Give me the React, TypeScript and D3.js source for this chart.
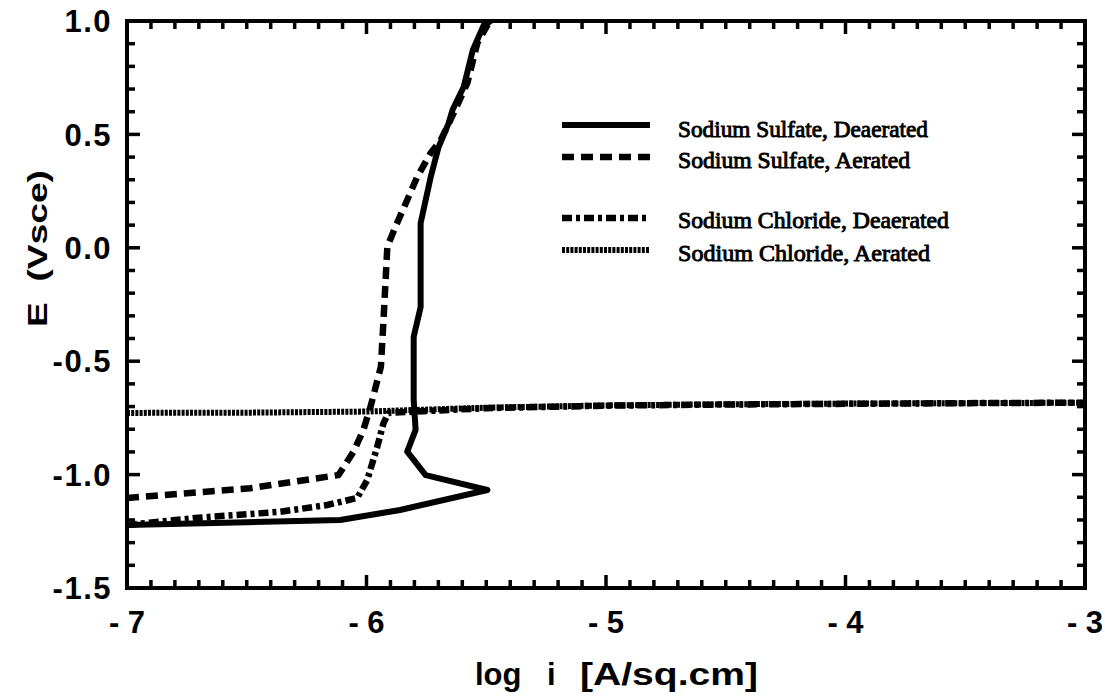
import React, { useEffect } from "react";
import * as d3 from "d3";

type Pt = [number, number];

const xTicks = [-7, -6, -5, -4, -3];
const xTickLabels = ["- 7", "- 6", "- 5", "- 4", "- 3"];
const yTicks = [1.0, 0.5, 0.0, -0.5, -1.0, -1.5];
const yTickLabels = ["1.0", "0.5", "0.0", "-0.5", "-1.0", "-1.5"];

const sulfateDeaerated: Pt[] = [
  [-7, -1.222], [-6.5, -1.21], [-6.11, -1.2], [-5.86, -1.156], [-5.495, -1.068],
  [-5.753, -1.002], [-5.83, -0.899], [-5.795, -0.803], [-5.803, -0.671],
  [-5.803, -0.393], [-5.774, -0.261], [-5.774, 0.109], [-5.732, 0.312],
  [-5.699, 0.444], [-5.657, 0.55], [-5.64, 0.61], [-5.594, 0.71],
  [-5.556, 0.872], [-5.51, 0.982], [-5.48, 1.0],
];
const sulfateAerated: Pt[] = [
  [-7, -1.103], [-6.485, -1.06], [-6.117, -1.002], [-6.054, -0.899],
  [-6.013, -0.803], [-5.983, -0.7], [-5.94, -0.525], [-5.929, -0.318],
  [-5.913, 0.005], [-5.879, 0.093], [-5.83, 0.211], [-5.788, 0.313],
  [-5.732, 0.418], [-5.69, 0.475], [-5.636, 0.594], [-5.579, 0.727],
  [-5.537, 0.903], [-5.495, 0.982], [-5.48, 1.0],
];
const chlorideDeaerated: Pt[] = [
  [-7, -1.222], [-6.7, -1.19], [-6.36, -1.164], [-6.164, -1.134],
  [-6.039, -1.103], [-5.997, -1.024], [-5.955, -0.877], [-5.929, -0.773],
  [-5.908, -0.728], [-5.5, -0.707], [-5, -0.696], [-4.5, -0.691],
  [-4, -0.688], [-3.5, -0.685], [-3, -0.683],
];
const chlorideAerated: Pt[] = [
  [-7, -0.728], [-6.5, -0.727], [-6, -0.722], [-5.5, -0.705], [-5, -0.695],
  [-4.5, -0.69], [-4, -0.687], [-3.5, -0.685], [-3, -0.683],
];

const legendLabels = [
  "Sodium Sulfate, Deaerated",
  "Sodium Sulfate, Aerated",
  "Sodium Chloride, Deaerated",
  "Sodium Chloride, Aerated",
];

const W = 1105, H = 696;
const L = 127, R = 1085, T = 21, B = 588;

const styles = [
  { dash: undefined as string | undefined, width: 6 },
  { dash: "12,7", width: 6.5 },
  { dash: "10,4,4,4", width: 6.5 },
  { dash: "3,1.2", width: 6 },
];

const font = "'Liberation Sans', Arial, Helvetica, sans-serif";
const serif = "'Liberation Serif', 'Times New Roman', serif";

export default function App() {
  useEffect(() => {
    document.body.style.margin = "0";
  }, []);
  const x = d3.scaleLinear().domain([-7, -3]).range([L, R]);
  const y = d3.scaleLinear().domain([-1.5, 1.0]).range([B, T]);
  const line = d3.line<Pt>().x((d) => x(d[0])).y((d) => y(d[1]));
  const series = [sulfateDeaerated, sulfateAerated, chlorideDeaerated, chlorideAerated];
  const xMinor = d3.range(0, 41).map((k) => -7 + k * 0.1);
  const yMinor = d3.range(0, 26).map((k) => -1.5 + k * 0.1);
  const rowsY = [125, 157, 218, 250];
  const baseY = [137, 168, 228, 261];
  const widths = [250, 232, 271, 252];

  return (
    <svg width={W} height={H} style={{ display: "block", background: "#fff", position: "absolute", left: 0, top: 0 }}>
      <defs>
        <clipPath id="clip">
          <rect x={L} y={T} width={R - L} height={B - T} />
        </clipPath>
      </defs>
      <g clipPath="url(#clip)">
        {[3, 2, 1, 0].map((i) => (
          <path key={i} d={line(series[i]) as string} fill="none" stroke="#000"
            strokeWidth={styles[i].width} strokeLinejoin="round"
            strokeDasharray={styles[i].dash} />
        ))}
      </g>
      <rect x={L} y={T} width={R - L} height={B - T} fill="none" stroke="#000" strokeWidth={4} />
      <g stroke="#000" strokeWidth={3.5}>
        {xMinor.map((v, k) => {
          const len = k % 10 === 0 ? 13 : 8;
          const px = x(v);
          return (
            <g key={"x" + k}>
              <line x1={px} x2={px} y1={B} y2={B - len} />
              <line x1={px} x2={px} y1={T} y2={T + len} />
            </g>
          );
        })}
        {yMinor.map((v, k) => {
          const len = k % 5 === 0 ? 13 : 8;
          const py = y(v);
          return (
            <g key={"y" + k}>
              <line x1={L} x2={L + len} y1={py} y2={py} />
              <line x1={R} x2={R - len} y1={py} y2={py} />
            </g>
          );
        })}
      </g>
      {xTicks.map((v, i) => (
        <text key={"xl" + i} x={x(v)} y={633} textAnchor="middle" fontFamily={font}
          fontWeight="bold" fontSize={31}>{xTickLabels[i]}</text>
      ))}
      {yTicks.map((v, i) => (
        <text key={"yl" + i} x={112} y={y(v)} dy="0.36em" textAnchor="end" fontFamily={font}
          fontWeight="bold" fontSize={31} letterSpacing={1.5}>{yTickLabels[i]}</text>
      ))}
      <text y={685} fontFamily={font} fontWeight="bold" fontSize={31}>
        <tspan x={475}>log</tspan>
        <tspan x={547}>i</tspan>
        <tspan x={580} textLength={178} lengthAdjust="spacingAndGlyphs">[A/sq.cm]</tspan>
      </text>
      <text transform="translate(47,327) rotate(-90)" fontFamily={font} fontWeight="bold"
        fontSize={28} textLength={157} lengthAdjust="spacingAndGlyphs" xmlSpace="preserve">
        {"E  (Vsce)"}
      </text>
      {legendLabels.map((lab, i) => (
        <g key={"lg" + i}>
          <line x1={562} x2={650} y1={rowsY[i]} y2={rowsY[i]} stroke="#000"
            strokeWidth={styles[i].width} strokeDasharray={styles[i].dash} />
          <text x={678} y={baseY[i]} fontFamily={serif} fontSize={23} stroke="#000"
            strokeWidth={0.9} textLength={widths[i]} lengthAdjust="spacingAndGlyphs">{lab}</text>
        </g>
      ))}
    </svg>
  );
}
